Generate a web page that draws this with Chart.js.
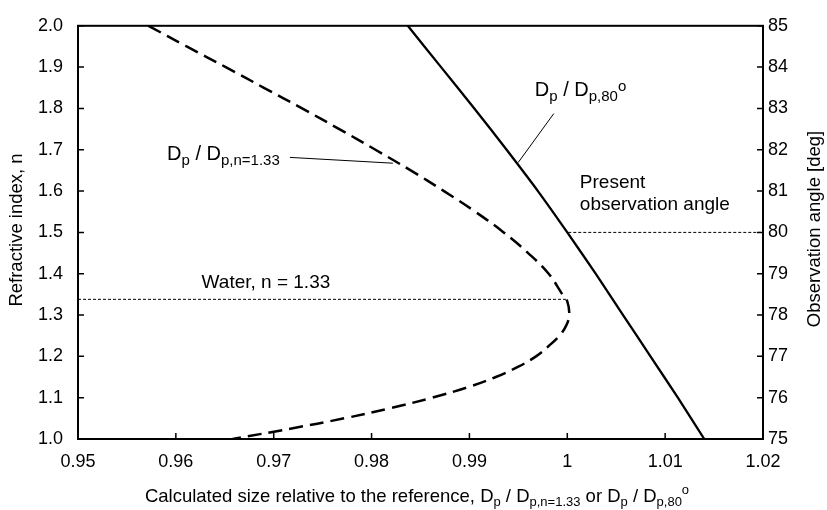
<!DOCTYPE html>
<html>
<head>
<meta charset="utf-8">
<script src="https://cdn.jsdelivr.net/npm/chart.js@4.4.1/dist/chart.umd.min.js"></script>
<style>
    html, body { margin: 0; padding: 0; background: #fff; }
    #wrap { width: 827px; height: 510px; }
</style>
</head>
<body>
<div id="wrap"><canvas id="chart"></canvas></div>
<script>
// Ticks
const xTicks = [0.95, 0.96, 0.97, 0.98, 0.99, 1.00, 1.01, 1.02];
const nTicks = [1.0, 1.1, 1.2, 1.3, 1.4, 1.5, 1.6, 1.7, 1.8, 1.9, 2.0];
const angleTicks = [75, 76, 77, 78, 79, 80, 81, 82, 83, 84, 85];

// D_p / D_p,n=1.33 vs refractive index (left axis)
const refIndex = [2.00, 1.95, 1.90, 1.85, 1.80, 1.75, 1.70, 1.65, 1.60, 1.55, 1.50, 1.45, 1.40, 1.35, 1.333,
                  1.30, 1.275, 1.25, 1.225, 1.20, 1.175, 1.15, 1.125, 1.10, 1.075, 1.05, 1.025, 1.00];
const sizeByIndex = [0.9572, 0.9611, 0.9651, 0.9690, 0.9729, 0.9767, 0.9804, 0.9840, 0.9874, 0.9906, 0.9935,
                     0.9960, 0.9981, 0.9995, 1.0000, 1.0002, 0.9999, 0.9992, 0.9981, 0.9968, 0.9950, 0.9927,
                     0.9898, 0.9862, 0.9820, 0.9772, 0.9717, 0.9658];

// D_p / D_p,80° vs observation angle (right axis)
const obsAngle = [85, 84, 83, 82, 81, 80, 79, 78, 77, 76, 75];
const sizeByAngle = [0.9837, 0.9871, 0.9905, 0.9938, 0.9970, 1.0000, 1.0029, 1.0057, 1.0085, 1.0113, 1.0140];

// Reference lines
const waterIndex = 1.338;
const waterX = [0.95, 1.0];
const presentAngle = 80;
const presentX = [1.0001, 1.02];

const FONT = '"Liberation Sans", Arial, Helvetica, sans-serif';

function drawRich(ctx, parts, x, y, size, small, subShift, supShift, measureOnly) {
    let cx = x;
    parts.forEach(([txt, kind]) => {
        ctx.font = `${kind ? small : size}px ${FONT}`;
        const dy = kind === 'sub' ? subShift : (kind === 'sup' ? supShift : 0);
        if (!measureOnly) ctx.fillText(txt, cx, y + dy);
        cx += ctx.measureText(txt).width;
    });
    return cx - x;
}

const decorations = {
    id: 'decorations',
    afterDatasetsDraw(chart) {
        const { ctx, chartArea: a, scales } = chart;
        const sx = scales.x, sy = scales.y, sy2 = scales.y2;
        ctx.save();

        // Frame
        ctx.strokeStyle = '#000';
        ctx.lineWidth = 2;
        ctx.strokeRect(a.left, a.top, a.right - a.left, a.bottom - a.top);

        // Inward tick marks
        ctx.lineWidth = 1.5;
        ctx.beginPath();
        sx.ticks.forEach(t => {
            const p = sx.getPixelForValue(t.value);
            ctx.moveTo(p, a.bottom); ctx.lineTo(p, a.bottom - 6);
        });
        sy.ticks.forEach(t => {
            const p = sy.getPixelForValue(t.value);
            ctx.moveTo(a.left, p); ctx.lineTo(a.left + 6, p);
        });
        sy2.ticks.forEach(t => {
            const p = sy2.getPixelForValue(t.value);
            ctx.moveTo(a.right, p); ctx.lineTo(a.right - 6, p);
        });
        ctx.stroke();

        // Leader lines
        ctx.lineWidth = 1;
        ctx.beginPath();
        ctx.moveTo(sx.getPixelForValue(0.97166), sy.getPixelForValue(1.6815));
        ctx.lineTo(sx.getPixelForValue(0.98218), sy.getPixelForValue(1.6675));
        ctx.moveTo(sx.getPixelForValue(0.99862), sy2.getPixelForValue(82.875));
        ctx.lineTo(sx.getPixelForValue(0.99498), sy2.getPixelForValue(81.69));
        ctx.stroke();

        // Labels inside the plot
        ctx.fillStyle = '#000';
        ctx.textAlign = 'left';
        ctx.textBaseline = 'alphabetic';
        drawRich(ctx, [['D'], ['p', 'sub'], [' / D'], ['p,n=1.33', 'sub']],
            sx.getPixelForValue(0.95910), sy.getPixelForValue(1.6763), 20, 15, 5, -6);
        drawRich(ctx, [['D'], ['p', 'sub'], [' / D'], ['p,80', 'sub'], ['o', 'sup']],
            sx.getPixelForValue(0.99668), sy2.getPixelForValue(83.29), 20, 15, 5, -5);

        ctx.font = `19px ${FONT}`;
        const px = sx.getPixelForValue(1.00128);
        ctx.fillText('Present', px, sy2.getPixelForValue(81.08));
        ctx.fillText('observation angle', px, sy2.getPixelForValue(80.55));
        ctx.fillText('Water, n = 1.33', sx.getPixelForValue(0.96263), sy.getPixelForValue(1.3655));

        // X axis title
        const titleParts = [['Calculated size relative to the reference, D'], ['p', 'sub'], [' / D'], ['p,n=1.33', 'sub'],
            [' or D'], ['p', 'sub'], [' / D'], ['p,80', 'sub'], ['o', 'sup']];
        const w = drawRich(ctx, titleParts, 0, 0, 18.5, 13, 4, -8, true);
        drawRich(ctx, titleParts, 417 - w / 2, 502, 18.5, 13, 4, -8);

        // Y axis titles
        ctx.font = `18.5px ${FONT}`;
        ctx.textAlign = 'center';
        ctx.textBaseline = 'middle';
        ctx.save();
        ctx.translate(17, 230);
        ctx.rotate(-Math.PI / 2);
        ctx.fillText('Refractive index, n', 0, 0);
        ctx.restore();
        ctx.save();
        ctx.translate(815, 229);
        ctx.rotate(-Math.PI / 2);
        ctx.fillText('Observation angle [deg]', 0, 0);
        ctx.restore();

        ctx.restore();
    }
};

function fixedTicks(values) {
    return scale => { scale.ticks = values.map(v => ({ value: v })); };
}

const tickFont = { family: FONT, size: 18 };

new Chart(document.getElementById('chart'), {
    type: 'scatter',
    data: {
        datasets: [
            {
                label: 'Dp / Dp,n=1.33',
                data: refIndex.map((n, i) => ({ x: sizeByIndex[i], y: n })),
                yAxisID: 'y',
                showLine: true,
                borderColor: '#000',
                borderWidth: 2.5,
                borderDash: [14, 7],
                tension: 0.4,
                pointRadius: 0
            },
            {
                label: 'Dp / Dp,80',
                data: obsAngle.map((ang, i) => ({ x: sizeByAngle[i], y: ang })),
                yAxisID: 'y2',
                showLine: true,
                borderColor: '#000',
                borderWidth: 2.3,
                tension: 0.2,
                pointRadius: 0
            },
            {
                label: 'Water',
                data: waterX.map(v => ({ x: v, y: waterIndex })),
                yAxisID: 'y',
                showLine: true,
                borderColor: '#000',
                borderWidth: 1,
                borderDash: [3, 2],
                pointRadius: 0
            },
            {
                label: 'Present angle',
                data: presentX.map(v => ({ x: v, y: presentAngle })),
                yAxisID: 'y2',
                showLine: true,
                borderColor: '#000',
                borderWidth: 1,
                borderDash: [3, 2],
                pointRadius: 0
            }
        ]
    },
    options: {
        responsive: true,
        maintainAspectRatio: false,
        devicePixelRatio: 1,
        animation: false,
        layout: { padding: { top: 22, left: 0, right: 0, bottom: 0 } },
        plugins: {
            legend: { display: false },
            tooltip: { enabled: false }
        },
        scales: {
            x: {
                type: 'linear',
                min: 0.95,
                max: 1.02,
                afterBuildTicks: fixedTicks(xTicks),
                afterFit: s => { s.height = 71; },
                grid: { display: false, drawTicks: false, tickLength: 0 },
                border: { display: false },
                ticks: { color: '#000', font: tickFont, padding: 12, maxRotation: 0,
                         callback: v => String(parseFloat(v.toFixed(2))) }
            },
            y: {
                type: 'linear',
                position: 'left',
                min: 1.0,
                max: 2.0,
                afterBuildTicks: fixedTicks(nTicks),
                afterFit: s => { s.width = 78; },
                grid: { display: false, drawTicks: false, tickLength: 0 },
                border: { display: false },
                ticks: { color: '#000', font: tickFont, padding: 15, callback: v => v.toFixed(1) }
            },
            y2: {
                type: 'linear',
                position: 'right',
                min: 75,
                max: 85,
                afterBuildTicks: fixedTicks(angleTicks),
                afterFit: s => { s.width = 64; },
                grid: { display: false, drawTicks: false, tickLength: 0 },
                border: { display: false },
                ticks: { color: '#000', font: tickFont, padding: 5, callback: v => String(v) }
            }
        }
    },
    plugins: [decorations]
});
</script>
</body>
</html>
